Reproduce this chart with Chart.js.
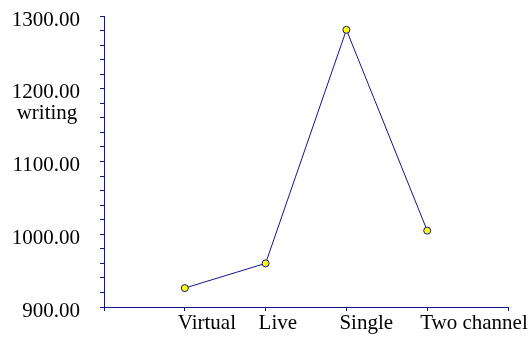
<!DOCTYPE html>
<html>
<head>
<meta charset="utf-8">
<script src="https://cdn.jsdelivr.net/npm/chart.js@4"></script>
<style>
  html, body { margin: 0; padding: 0; background: #fff; }
  #wrap { width: 531px; height: 346px; }
</style>
</head>
<body>
<div id="wrap"><canvas id="chart" width="531" height="346"></canvas></div>
<script>
// chart data
var categories = ['Virtual', 'Live', 'Single', 'Two channel'];
var values = [926, 960, 1281, 1005];
var yTitle = 'writing';
var yMin = 900, yMax = 1300;

var navy = '#14148c';
var font = { family: 'Liberation Serif', size: 21 };

// points sit on ticks 1..4 of a 0..5 axis
var points = values.map((v, i) => ({ x: i + 1, y: v }));

// horizontal y axis title under the 1200 label
var yTitlePlugin = {
    id: 'yTitle',
    afterDraw(chart) {
        var ctx = chart.ctx;
        var y = chart.scales.y;
        ctx.save();
        ctx.font = font.size + 'px ' + font.family;
        ctx.fillStyle = '#000';
        ctx.textAlign = 'center';
        ctx.textBaseline = 'alphabetic';
        ctx.fillText(yTitle, 47, y.getPixelForValue(1200) + 30);
        ctx.restore();
    }
};

new Chart(document.getElementById('chart'), {
    type: 'line',
    data: {
        datasets: [{
            data: points,
            borderColor: navy,
            borderWidth: 1,
            pointBackgroundColor: '#ffff00',
            pointBorderColor: navy,
            pointBorderWidth: 1,
            pointRadius: 3.5,
            tension: 0
        }]
    },
    options: {
        responsive: false,
        animation: false,
        layout: { padding: { top: 16, right: 23, left: 0, bottom: 0 } },
        plugins: {
            legend: { display: false },
            tooltip: { enabled: false }
        },
        scales: {
            x: {
                type: 'linear',
                min: 0,
                max: categories.length + 1,
                afterFit: s => { s.height = 39; s.paddingLeft = 0; s.paddingRight = 0; },
                border: { color: navy, width: 1 },
                grid: { drawOnChartArea: false, tickLength: 4, color: navy },
                ticks: {
                    stepSize: 1,
                    autoSkip: false,
                    maxRotation: 0,
                    align: 'start',
                    labelOffset: -7,
                    padding: 0,
                    color: '#000',
                    font: font,
                    callback: v => categories[v - 1] || ''
                }
            },
            y: {
                min: yMin,
                max: yMax,
                // fixed width, and no extra room above the top label
                afterFit: s => { s.width = 104; s.paddingTop = 0; s.paddingBottom = 0; },
                border: { color: navy, width: 1 },
                grid: { drawOnChartArea: false, tickLength: 4, color: navy },
                ticks: {
                    stepSize: 20,
                    autoSkip: false,
                    padding: 20,
                    labelOffset: 4,
                    color: '#000',
                    font: font,
                    callback: v => (v % 100 === 0 ? v.toFixed(2) : '')
                }
            }
        }
    },
    plugins: [yTitlePlugin]
});
</script>
</body>
</html>
